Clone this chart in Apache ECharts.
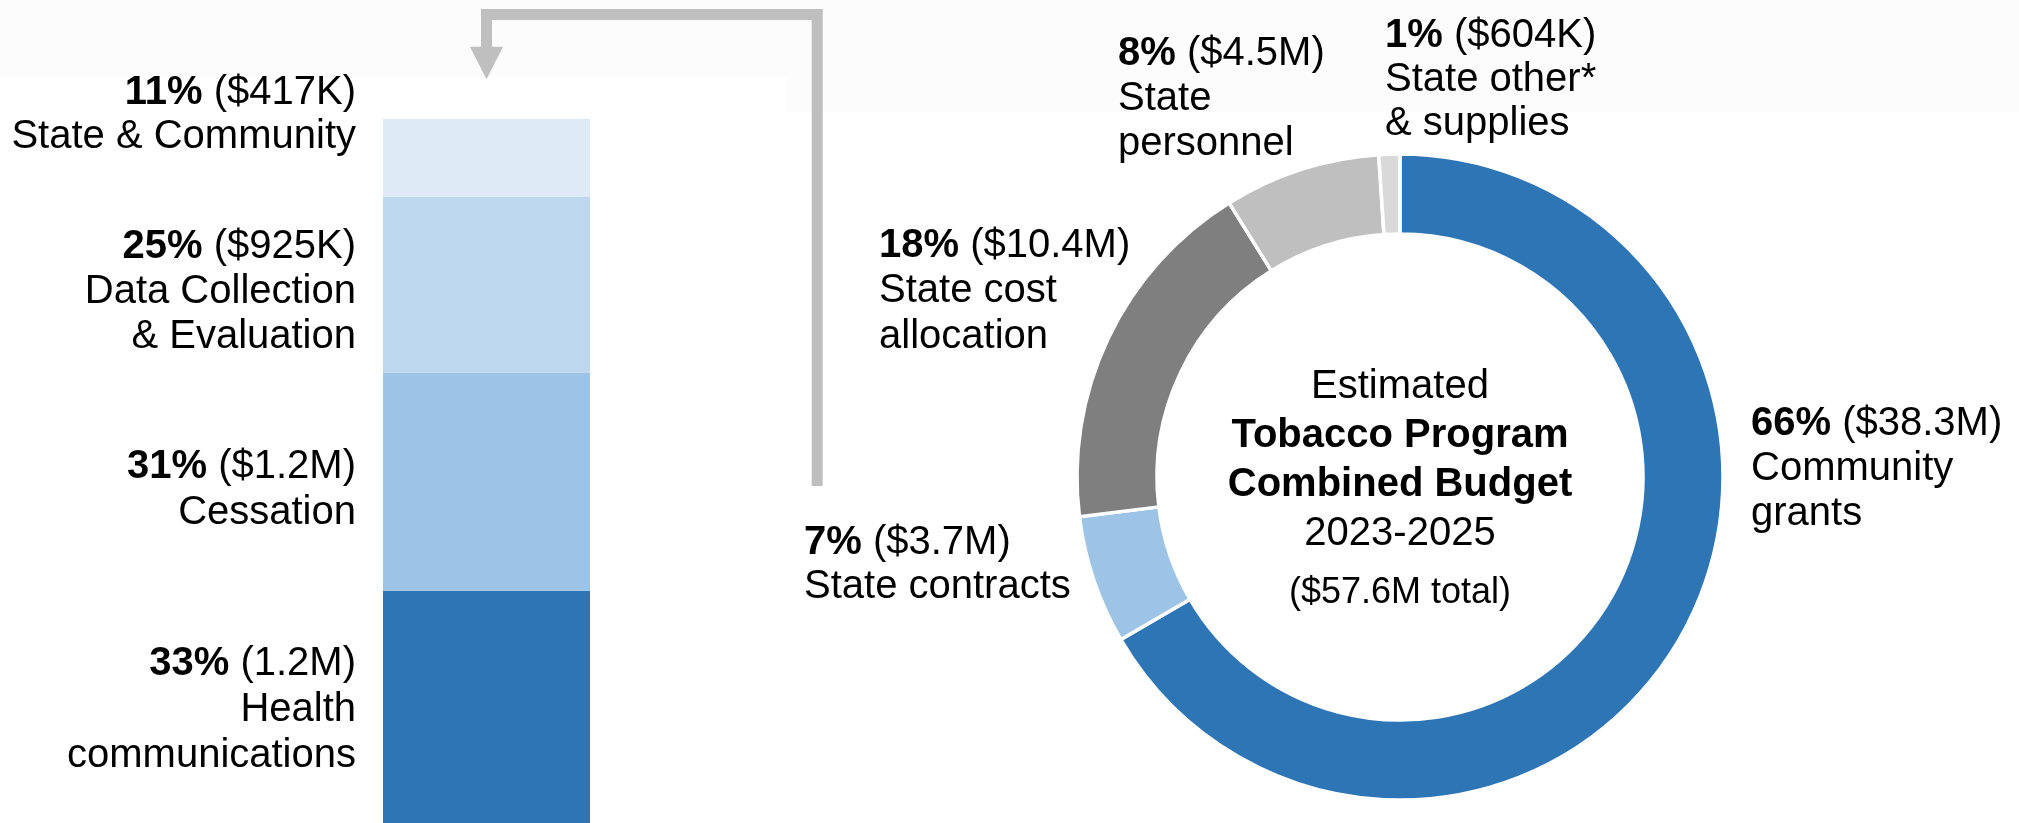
<!DOCTYPE html>
<html>
<head>
<meta charset="utf-8">
<script src="https://cdn.jsdelivr.net/npm/echarts/dist/echarts.min.js"></script>
<style>
  body { margin: 0; background: #fff; }
  #chart { width: 2019px; height: 823px; }
</style>
</head>
<body>
<div id="chart"></div>
<script>
// stacked bar (top to bottom)
var barPct = ['11%', '25%', '31%', '33%'];
var barAmt = ['($417K)', '($925K)', '($1.2M)', '(1.2M)'];
var barNames = ['State & Community', 'Data Collection\n& Evaluation', 'Cessation', 'Health\ncommunications'];
var barValues = [11, 25, 31, 33];
var barColors = ['#deebf7', '#bdd7ee', '#9dc3e6', '#2e75b6'];

// donut (clockwise from 12 o'clock), $M
var pieNames = ['Community\ngrants', 'State contracts', 'State cost\nallocation', 'State\npersonnel', 'State other*\n& supplies'];
var pieValues = [38.3, 3.7, 10.4, 4.5, 0.604];
var piePct = ['66%', '7%', '18%', '8%', '1%'];
var pieAmt = ['($38.3M)', '($3.7M)', '($10.4M)', '($4.5M)', '($604K)'];
var pieColors = ['#2e75b6', '#9dc3e6', '#7f7f7f', '#bfbfbf', '#d9d9d9'];

var centerLines = ['Estimated', 'Tobacco Program', 'Combined Budget', '2023-2025', '($57.6M total)'];

var FONT = '"Liberation Sans", Arial, sans-serif';
var MID = 9.4; // line centre to baseline at 40px

// label blocks: [x, first baseline, line height]
var barLabelPos = [[356, 102.3, 44.4], [356, 256.7, 45], [356, 476.7, 46], [356, 673.3, 46]];
var pieLabelPos = [[1751, 433, 45], [804, 552.3, 44.4], [879, 255, 45.8], [1118, 63.3, 45], [1385, 45, 44]];

function block(x, b1, lh, pct, amt, name, align) {
  return {
    type: 'text', x: x, y: b1 - MID - lh / 2, z: 100,
    style: {
      text: '{b|' + pct + '} ' + amt + '\n' + name,
      fill: '#000', fontFamily: FONT, fontSize: 40, lineHeight: lh,
      align: align, textAlign: align, verticalAlign: 'top', textVerticalAlign: 'top',
      rich: { b: { fontWeight: 'bold', fontFamily: FONT, fontSize: 40, lineHeight: lh, fill: '#000' } }
    }
  };
}

var graphics = [
  { type: 'rect', z: -1, shape: { x: 0, y: 0, width: 786, height: 77 }, style: { fill: '#fcfcfc' } },
  { type: 'rect', z: -1, shape: { x: 786, y: 0, width: 1233, height: 112 }, style: { fill: '#fcfcfc' } },
  { type: 'polyline', z: 50, shape: { points: [[817.2, 486], [817.2, 14.5], [486.5, 14.5], [486.5, 48]] },
    style: { stroke: '#bfbfbf', lineWidth: 11, lineJoin: 'miter', fill: null } },
  { type: 'polygon', z: 50, shape: { points: [[470, 46.7], [503, 46.7], [486.5, 79.3]] }, style: { fill: '#bfbfbf' } }
];
barPct.forEach(function (p, i) {
  var q = barLabelPos[i];
  graphics.push(block(q[0], q[1], q[2], p, barAmt[i], barNames[i], 'right'));
});
piePct.forEach(function (p, i) {
  var q = pieLabelPos[i];
  graphics.push(block(q[0], q[1], q[2], p, pieAmt[i], pieNames[i], 'left'));
});

function centerText(y, text, size) {
  var mid = MID * size / 40;
  return {
    type: 'text', x: 1400, y: y - mid - 24.5, z: 100,
    style: {
      text: text, fill: '#000', fontFamily: FONT, fontSize: size, lineHeight: 49,
      align: 'center', textAlign: 'center', verticalAlign: 'top', textVerticalAlign: 'top',
      rich: {
        n: { fontFamily: FONT, fontSize: size, lineHeight: 49, fill: '#000' },
        b: { fontFamily: FONT, fontSize: size, lineHeight: 49, fontWeight: 'bold', fill: '#000' }
      }
    }
  };
}
graphics.push(centerText(396, '{n|' + centerLines[0] + '}\n{b|' + centerLines[1] + '}\n{b|' + centerLines[2] + '}\n{n|' + centerLines[3] + '}', 40));
graphics.push(centerText(601.5, '{n|' + centerLines[4] + '}', 36));

var barSeries = [];
for (var i = barValues.length - 1; i >= 0; i--) {
  barSeries.push({
    type: 'bar', stack: 'budget', barWidth: '100%', silent: true,
    data: [barValues[i]],
    itemStyle: { color: barColors[i] }
  });
}

var chart = echarts.init(document.getElementById('chart'));
chart.setOption({
  animation: false,
  grid: { left: 383, top: 119, width: 207, bottom: 0 },
  xAxis: { type: 'category', data: [''], show: false },
  yAxis: { type: 'value', min: 0, max: 100, show: false },
  series: barSeries.concat([{
    type: 'pie',
    center: [1400, 477],
    radius: [243, 323],
    startAngle: 90,
    clockwise: true,
    silent: true,
    label: { show: false },
    labelLine: { show: false },
    itemStyle: { borderColor: '#fff', borderWidth: 3.5 },
    data: pieValues.map(function (v, i) {
      return { value: v, name: pieNames[i], itemStyle: { color: pieColors[i] } };
    })
  }]),
  graphic: { elements: graphics }
});
</script>
</body>
</html>
